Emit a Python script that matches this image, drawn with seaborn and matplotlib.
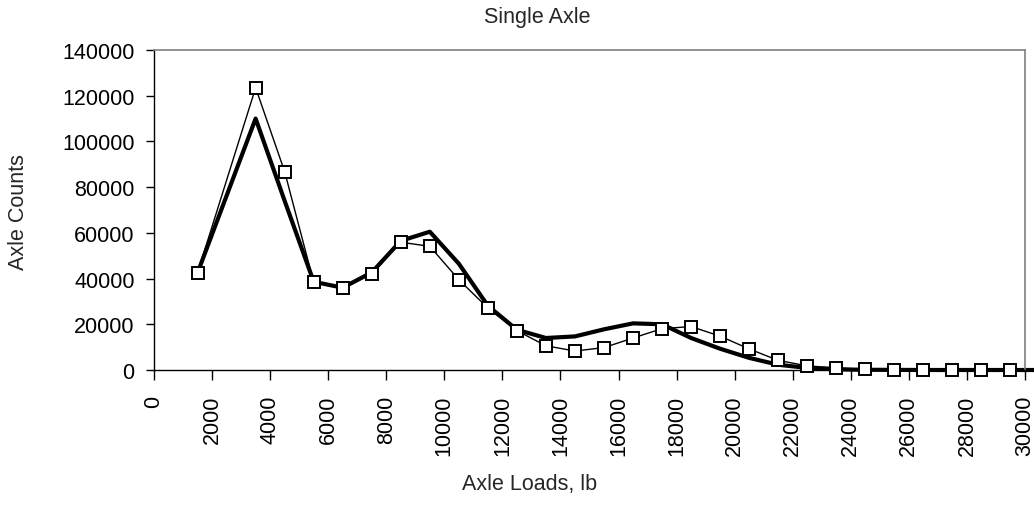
import matplotlib
matplotlib.use("Agg")
import matplotlib.pyplot as plt
import seaborn as sns
import pandas as pd

# Axle load bins (lb, bin midpoints)
load_bins = [1500, 3500, 4500, 5500, 6500, 7500, 8500, 9500, 10500, 11500,
             12500, 13500, 14500, 15500, 16500, 17500, 18500, 19500, 20500,
             21500, 22500, 23500, 24500, 25500, 26500, 27500, 28500, 29500]

# Observed axle counts (square markers)
observed_counts = [42500, 123500, 86800, 38400, 35900, 41900, 55900, 54100,
                   39500, 27100, 17200, 10600, 8300, 9800, 14000, 18100,
                   19000, 14800, 9200, 4200, 1800, 900, 300, 200, 150, 100,
                   100, 100]

# Fitted distribution (thick line), extends one bin past the axis
fitted_bins = load_bins + [30500]
fitted_counts = [42500, 110000, 74000, 38600, 36000, 42700, 56500, 60500,
                 46500, 28100, 17600, 14000, 14700, 17800, 20400, 20000,
                 14000, 9300, 5300, 2300, 900, 300, 100, 50, 0, 0, 0, 0, 0]

x_ticks = list(range(0, 30001, 2000))
y_ticks = list(range(0, 140001, 20000))

obs_df = pd.DataFrame({"load": load_bins, "count": observed_counts})
fit_df = pd.DataFrame({"load": fitted_bins, "count": fitted_counts})

sns.set_style("white")
plt.rcParams["font.family"] = ["Liberation Sans", "DejaVu Sans"]

FS = 15.5

fig = plt.figure(figsize=(10.34, 5.06), dpi=100)
ax = fig.add_axes([154 / 1034, 1 - 371 / 506, (1025 - 154) / 1034, (371 - 51) / 506])

sns.lineplot(data=fit_df, x="load", y="count", ax=ax, color="black",
             linewidth=3.0, zorder=2, clip_on=False)
sns.lineplot(data=obs_df, x="load", y="count", ax=ax, color="black",
             linewidth=1.0, marker="s", markersize=9, markerfacecolor="white",
             markeredgecolor="black", markeredgewidth=1.4, zorder=3,
             clip_on=False)

ax.set_xlim(0, 30000)
ax.set_ylim(0, 140000)
ax.set_xticks(x_ticks)
ax.set_yticks(y_ticks)
ax.set_xticklabels([str(t) for t in x_ticks], rotation=90, fontsize=FS)
ax.set_yticklabels([str(t) for t in y_ticks], fontsize=FS)
ax.tick_params(axis="x", direction="out", length=7, width=1, pad=11,
               colors="black", bottom=True)
ax.tick_params(axis="y", direction="out", length=6, width=1, pad=8,
               colors="black", left=True)
for lab in ax.get_xticklabels():
    lab.set_verticalalignment("top")

ax.set_xlabel("")
ax.set_ylabel("")
for side in ("left", "bottom"):
    ax.spines[side].set_color("black")
    ax.spines[side].set_linewidth(1.0)
for side in ("top", "right"):
    ax.spines[side].set_visible(True)
    ax.spines[side].set_color("#808080")
    ax.spines[side].set_linewidth(1.2)
ax.grid(False)

fig.text(537 / 1034, 1 - 17 / 506, "Single Axle", ha="center", va="center",
         fontsize=FS)
fig.text(19 / 1034, 1 - 212 / 506, "Axle Counts", ha="center", va="center",
         rotation=90, fontsize=FS)
fig.text(530 / 1034, 1 - 485 / 506, "Axle Loads, lb", ha="center",
         va="center", fontsize=FS)

fig.savefig("out.png", dpi=100, facecolor="white")
